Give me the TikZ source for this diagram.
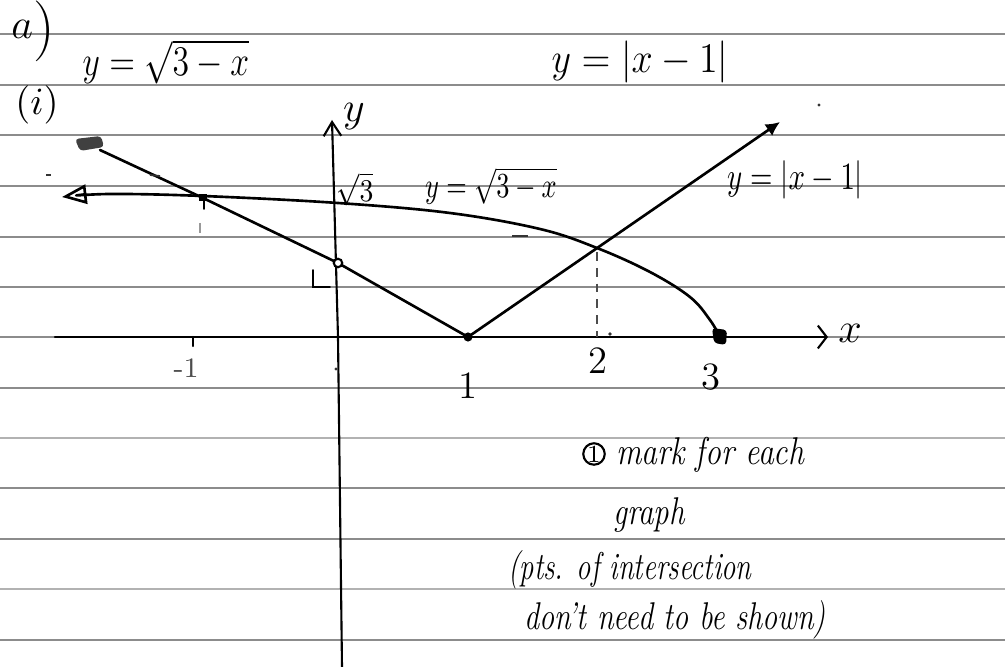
\documentclass[tikz,border=0pt]{standalone}
\usepackage{graphicx}
\usetikzlibrary{arrows.meta}
\newcommand\myfs[1]{\fontsize{#1}{#1}\selectfont}
\begin{document}
\begin{tikzpicture}[x=0.01cm,y=-0.01cm,
  rule/.style={black!45, line width=0.45pt},
  pen/.style={black, line width=0.75pt, line cap=round, line join=round},
  axis/.style={black, line width=0.6pt, line cap=round},
  lbl/.style={inner sep=0pt, outer sep=0pt},
  speck/.style={black!80},
]
\fill[white] (0,0) rectangle (1005,667);
\useasboundingbox (0,0) rectangle (1005,667);
% ruled paper
\foreach \yy in {34,85,135,186,237,287,337,388,488,539,640}
  \draw[rule] (0,\yy) -- (1005,\yy);
\foreach \yy in {438,589}
  \draw[rule, black!30] (0,\yy) -- (1005,\yy);

% headings
\node[lbl, anchor=base] (qa) at (33,47) {\raisebox{2.5pt}{\myfs{12}$a$}\myfs{16}$)$};
\node[lbl, anchor=base] (eq1) at (166,76) {\scalebox{0.8}[1]{\myfs{12}$y=\sqrt{3-x}$}};
\node[lbl] (qi) at (37,105) {\myfs{11}$(i)$};
\node[lbl, anchor=base] (eq2) at (640,73) {\scalebox{0.9}[1]{\myfs{12}$y=|x-1|$}};

% axes
\coordinate (ytop) at (332,120);
\coordinate (ymid) at (338,337);
\coordinate (ybot) at (342,667);
\draw[axis, -{Straight Barb[length=4pt,width=5pt]}] (ybot) -- (ymid) -- (ytop);
\coordinate (xl) at (55,337);
\coordinate (xr) at (828,337);
\draw[axis, -{Straight Barb[length=2.5pt,width=6.5pt]}] (xl) -- (xr);
\node[lbl] (ylab) at (354,117) {\myfs{13}$y$};
\node[lbl] (xlab) at (850,333) {\myfs{13}$x$};

% y = |x-1|
\coordinate (v0) at (100,150);
\coordinate (v1) at (203,198);
\coordinate (v2) at (338,263);
\coordinate (v3) at (468,337);
\coordinate (v4) at (780,122);
\draw[pen, -{Latex[length=4pt,width=4pt]}] (v0) -- (v1) -- (v2) -- (v3) -- (v4);
\fill[black!75, rounded corners=1pt] (75,139) -- (101,136) -- (104,147) -- (80,151) -- cycle;
\draw[axis, fill=white] (v2) circle[radius=1.2pt];
\fill (v3) circle[radius=1.3pt];

% y = sqrt(3-x)
\draw[pen, -{Triangle[open,length=7pt,width=5.5pt]}] plot[smooth, tension=0.6] coordinates
  {(720,337) (710,320) (690,297) (650,272) (597,248) (540,229) (450,213) (338,203) (203,196) (110,194) (62,197)};
\fill[rounded corners=1pt] (712,328) -- (727,330) -- (726,345) -- (714,343) -- cycle;
\fill (199,194) rectangle (207,201);
\draw[axis, line width=0.5pt] (204,201) -- (204,209);
\draw[black!70, line width=0.45pt, dash pattern=on 2.5pt off 2pt] (597,252) -- (597,337);

% ticks and marks
\draw[axis] (193,337) -- (193,346);
\draw[axis, line width=0.5pt] (313,270) -- (313,287) -- (330,287);
\draw[black!40, line width=0.5pt] (200,223) -- (200,233);
\fill[speck] (610,334) circle[radius=0.5pt];
\fill[speck] (336,369) circle[radius=0.45pt];
\fill[speck] (819,105) circle[radius=0.45pt];
\draw[speck, line width=0.5pt] (46,175) -- (51,175);
\draw[speck, line width=0.5pt] (150,175) -- (160,176);
\draw[speck, line width=0.5pt] (512,236) -- (528,236);

% graph labels
\node[lbl] (r3) at (355,189) {\scalebox{0.85}[1]{\myfs{9}$\sqrt{3}$}};
\node[lbl, anchor=base] (lab1) at (491,198) {\scalebox{0.75}[1]{\myfs{10}$y=\sqrt{3-x}$}};
\node[lbl, anchor=base] (lab2) at (795,190) {\scalebox{0.75}[1]{\myfs{11}$y=|x-1|$}};
\node[lbl] (tm1) at (186,368) {\myfs{8}\textcolor{black!70}{-1}};
\node[lbl] (t1) at (468,386) {\myfs{11}1};
\node[lbl] (t2) at (598,361) {\myfs{11}2};
\node[lbl] (t3) at (711,377) {\myfs{11}3};

% marking note
\node[lbl, circle, draw, line width=0.6pt, minimum size=1.8mm] (c1) at (594,454) {\myfs{7}1};
\node[lbl, anchor=base] (m1) at (710,465) {\scalebox{0.82}[1]{\myfs{11}\itshape mark for each}};
\node[lbl, anchor=base] (m2) at (649,525) {\scalebox{0.8}[1]{\myfs{11}\itshape graph}};
\node[lbl, anchor=base] (m3) at (630,580) {\scalebox{0.74}[1]{\myfs{11}\itshape (pts. of intersection}};
\node[lbl, anchor=base] (m4) at (675,630) {\scalebox{0.78}[1]{\myfs{11}\itshape don't need to be shown)}};
\end{tikzpicture}
\end{document}
